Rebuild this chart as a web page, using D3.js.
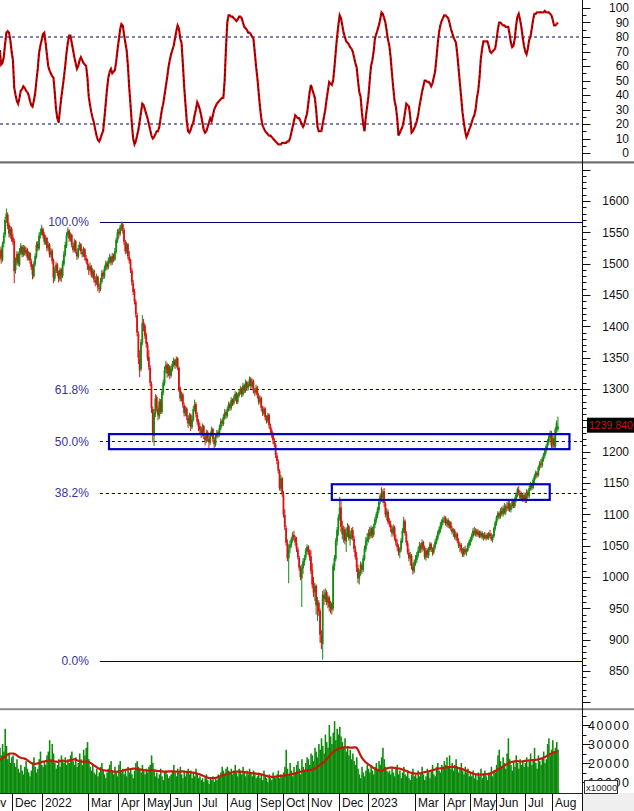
<!DOCTYPE html>
<html><head><meta charset="utf-8">
<script src="https://cdn.jsdelivr.net/npm/d3@7"></script>
<style>html,body{margin:0;padding:0;background:#fff;overflow:hidden}svg{display:block;font-family:Arial,"Liberation Sans",sans-serif}</style>
</head><body><svg id="c" width="634" height="811"></svg>
<script>
// ---------- DATA ----------
const monthLabels = ['Nov','Dec','2022','Feb','Mar','Apr','May','Jun','Jul','Aug','Sep','Oct','Nov','Dec','2023','Feb','Mar','Apr','May','Jun','Jul','Aug'];
const monthBars   = [23,23,19,16,23,20,20,22,21,23,20,19,24,22,16,20,22,20,20,22,21,5];
const hiddenMonthLabels = ['Feb'];
const leadBars = 13; // bars of the first month that are before the first drawn candle

// [open, high, low, close]
const candles = [
[1512,1528,1505,1520],[1522,1526,1500,1508],[1506,1535,1503,1530],[1532,1550,1526,1545],[1546,1575,1542,1570],[1572,1588,1565,1580],[1578,1582,1555,1560],[1562,1566,1542,1548],[1545,1560,1540,1555],[1556,1559,1535,1540],
[1542,1548,1530,1535],[1536,1540,1469,1488],[1490,1510,1484,1505],[1503,1520,1498,1515],[1516,1518,1496,1500],[1498,1525,1495,1520],[1518,1533,1514,1528],[1527,1530,1510,1515],[1514,1530,1511,1525],[1526,1529,1513,1518],[1516,1527,1512,1522],[1523,1525,1505,1510],[1508,1520,1505,1516],[1517,1519,1500,1505],[1504,1508,1490,1495],[1496,1499,1475,1482],[1480,1504,1477,1500],[1499,1516,1496,1512],[1511,1535,1508,1530],[1532,1536,1520,1525],[1524,1550,1521,1545],[1546,1556,1540,1550],[1548,1562,1545,1556],
[1555,1558,1540,1545],[1546,1550,1530,1535],[1533,1546,1530,1540],[1541,1543,1520,1525],[1524,1535,1520,1530],[1531,1533,1510,1515],[1514,1525,1510,1520],[1521,1524,1500,1505],[1506,1508,1469,1478],[1476,1495,1472,1490],[1489,1503,1485,1498],[1499,1501,1480,1485],[1486,1489,1470,1476],[1475,1494,1472,1490],[1491,1493,1471,1482],[1480,1505,1477,1500],[1499,1520,1496,1515],[1514,1535,1511,1530],[1528,1550,1525,1545],
[1546,1558,1542,1552],[1553,1555,1535,1540],[1538,1550,1535,1545],[1546,1548,1526,1530],[1529,1533,1518,1522],[1521,1540,1518,1535],[1536,1538,1516,1520],[1519,1523,1506,1512],[1511,1530,1508,1525],[1526,1535,1521,1530],[1531,1533,1515,1520],[1519,1524,1510,1515],[1514,1527,1511,1522],[1523,1525,1505,1510],[1509,1514,1500,1505],[1506,1508,1490,1498],
[1497,1500,1482,1490],[1489,1502,1486,1495],[1496,1498,1478,1482],[1481,1493,1477,1488],[1489,1491,1470,1475],[1474,1480,1464,1470],[1469,1484,1466,1478],[1479,1481,1456,1462],[1461,1468,1453,1460],[1459,1477,1456,1472],[1471,1490,1468,1485],[1486,1489,1475,1480],[1479,1497,1476,1492],[1491,1505,1488,1500],[1501,1504,1490,1495],[1494,1510,1491,1505],[1504,1516,1500,1510],[1511,1513,1497,1502],[1501,1517,1498,1512],[1513,1516,1503,1508],[1507,1525,1504,1520],[1519,1542,1516,1538],[1537,1555,1533,1550],
[1551,1556,1540,1548],[1547,1562,1544,1558],[1557,1567,1552,1562],[1563,1566,1548,1555],[1554,1557,1530,1535],[1534,1538,1515,1520],[1519,1535,1516,1530],[1531,1533,1507,1512],[1511,1520,1500,1505],[1506,1508,1485,1490],[1489,1493,1465,1470],[1469,1474,1450,1455],[1456,1460,1435,1440],[1439,1443,1414,1420],[1418,1422,1384,1390],[1388,1392,1340,1350],[1348,1362,1319,1330],[1332,1380,1328,1375],[1374,1418,1370,1405],[1406,1412,1392,1400],
[1401,1404,1380,1385],[1386,1390,1366,1372],[1371,1375,1345,1350],[1351,1362,1330,1335],[1334,1338,1305,1310],[1308,1312,1262,1270],[1268,1272,1215,1228],[1225,1268,1209,1262],[1260,1292,1255,1285],[1287,1290,1264,1270],[1269,1273,1250,1258],[1256,1285,1252,1280],[1281,1284,1260,1265],[1263,1300,1260,1295],[1294,1315,1290,1310],[1309,1336,1305,1330],[1331,1345,1325,1338],[1339,1342,1318,1325],[1324,1340,1320,1335],[1336,1338,1316,1322],
[1321,1337,1318,1332],[1331,1345,1328,1340],[1339,1350,1335,1345],[1346,1348,1332,1338],[1337,1352,1334,1348],[1349,1351,1330,1335],[1334,1336,1295,1300],[1301,1304,1280,1285],[1284,1296,1280,1290],[1291,1294,1270,1275],[1274,1278,1256,1262],[1261,1273,1257,1268],[1269,1271,1250,1255],[1254,1258,1238,1245],[1244,1262,1241,1258],[1259,1261,1233,1240],[1239,1257,1236,1252],[1251,1273,1248,1268],[1267,1283,1264,1275],[1276,1279,1255,1260],[1259,1263,1243,1248],[1249,1252,1233,1240],
[1241,1246,1229,1235],[1236,1240,1222,1228],[1227,1245,1224,1240],[1241,1243,1220,1225],[1224,1228,1210,1218],[1217,1235,1214,1230],[1231,1234,1216,1222],[1221,1225,1206,1215],[1214,1232,1211,1228],[1227,1240,1224,1235],[1236,1238,1215,1220],[1219,1223,1206,1212],[1211,1229,1208,1225],[1224,1235,1221,1230],[1231,1234,1222,1228],[1227,1243,1224,1238],[1237,1253,1234,1248],[1249,1252,1240,1245],[1244,1260,1241,1255],[1254,1268,1251,1262],[1263,1266,1252,1258],
[1257,1272,1254,1268],[1267,1280,1264,1275],[1276,1279,1265,1270],[1269,1287,1266,1282],[1283,1285,1273,1278],[1277,1290,1274,1285],[1284,1297,1281,1292],[1293,1295,1276,1280],[1279,1294,1276,1290],[1289,1300,1286,1295],[1294,1305,1291,1300],[1301,1303,1287,1292],[1291,1310,1288,1305],[1306,1308,1293,1298],[1297,1315,1294,1310],[1311,1313,1297,1302],[1301,1312,1298,1308],[1307,1320,1304,1315],[1316,1319,1300,1305],[1304,1317,1301,1312],[1313,1315,1293,1298],[1297,1301,1289,1295],[1294,1307,1291,1302],
[1303,1305,1285,1290],[1289,1293,1275,1280],[1279,1290,1276,1285],[1286,1288,1265,1270],[1269,1273,1257,1262],[1261,1272,1258,1268],[1269,1271,1250,1255],[1254,1258,1245,1250],[1249,1262,1246,1258],[1259,1261,1237,1242],[1241,1245,1230,1235],[1234,1238,1222,1228],[1227,1231,1212,1218],[1217,1222,1207,1212],[1211,1214,1190,1195],[1194,1198,1180,1185],[1184,1188,1165,1170],[1169,1172,1138,1142],[1141,1163,1137,1158],[1157,1160,1128,1132],
[1131,1137,1095,1100],[1099,1108,1075,1080],[1078,1082,1050,1055],[1054,1060,1025,1030],[1030,1052,990,1045],[1046,1058,1038,1052],[1051,1064,1047,1060],[1059,1072,1055,1068],[1067,1074,1058,1063],[1062,1066,1050,1055],[1054,1064,1040,1045],[1044,1048,1028,1032],[1031,1034,1010,1015],[1014,1018,995,1000],[998,1020,952,1015],[1014,1030,1005,1025],[1024,1035,1018,1030],[1031,1046,1027,1042],[1041,1052,1036,1048],
[1049,1051,1035,1040],[1041,1044,1026,1032],[1033,1043,1005,1010],[1011,1022,982,988],[989,1000,968,975],[976,991,962,985],[986,988,940,955],[954,968,930,960],[959,963,938,945],[946,950,895,908],[907,915,885,895],[893,978,868,972],[971,980,955,965],[964,982,960,975],[976,979,955,960],[959,972,950,968],[967,970,945,952],[951,962,942,958],[957,960,940,948],[950,1022,946,1018],[1017,1035,1010,1030],[1029,1062,1025,1058],[1057,1080,1050,1075],[1074,1100,1066,1095],
[1094,1128,1090,1110],[1111,1122,1072,1080],[1079,1090,1060,1068],[1067,1082,1055,1075],[1076,1080,1052,1058],[1057,1078,1040,1070],[1071,1086,1064,1080],[1081,1084,1058,1062],[1061,1074,1050,1068],[1069,1078,1060,1074],[1075,1080,1058,1062],[1061,1066,1040,1045],[1044,1050,1028,1032],[1031,1040,1008,1015],[1014,1020,990,998],[997,1012,988,1008],[1007,1025,1002,1020],[1019,1023,1005,1012],[1011,1035,1008,1030],[1029,1050,1026,1045],[1044,1064,1040,1058],[1057,1070,1050,1062],
[1061,1076,1055,1070],[1071,1080,1060,1066],[1065,1082,1062,1078],[1077,1080,1062,1068],[1067,1085,1064,1082],[1083,1096,1078,1092],[1091,1104,1086,1100],[1099,1112,1094,1108],[1107,1125,1102,1120],[1121,1134,1116,1130],[1131,1143,1120,1128],[1127,1140,1118,1136],[1137,1142,1112,1118],[1117,1120,1095,1100],[1099,1110,1090,1105],[1104,1108,1084,1088],
[1089,1094,1080,1085],[1084,1090,1072,1078],[1077,1082,1064,1070],[1069,1084,1066,1080],[1079,1082,1058,1062],[1061,1068,1050,1055],[1054,1060,1042,1048],[1047,1052,1034,1040],[1039,1048,1030,1045],[1044,1062,1040,1058],[1057,1078,1054,1074],[1073,1096,1070,1090],[1089,1092,1066,1070],[1069,1073,1050,1055],[1054,1058,1036,1040],[1039,1045,1025,1030],[1029,1040,1018,1035],[1034,1037,1012,1018],[1017,1022,1004,1010],[1009,1028,1006,1024],
[1023,1035,1018,1028],[1027,1040,1022,1035],[1034,1048,1030,1042],[1041,1056,1038,1050],[1051,1054,1038,1045],[1044,1060,1040,1055],[1056,1058,1042,1048],[1047,1050,1028,1032],[1031,1046,1026,1042],[1043,1046,1030,1035],[1034,1048,1030,1044],[1043,1056,1040,1052],[1053,1055,1040,1045],[1044,1047,1034,1040],[1039,1052,1036,1048],[1047,1060,1044,1056],[1055,1066,1052,1062],[1061,1074,1058,1070],[1069,1080,1066,1076],[1075,1088,1070,1082],[1081,1092,1077,1088],[1087,1096,1083,1092],
[1093,1098,1086,1094],[1095,1097,1082,1086],[1085,1093,1080,1090],[1091,1094,1078,1082],[1081,1090,1077,1086],[1087,1089,1074,1078],[1077,1081,1068,1072],[1071,1078,1064,1075],[1074,1077,1060,1064],[1063,1072,1058,1068],[1069,1071,1054,1058],[1057,1062,1046,1050],[1049,1056,1040,1052],[1051,1054,1038,1042],[1041,1046,1032,1036],[1035,1048,1032,1045],[1044,1050,1036,1040],[1039,1046,1034,1043],[1042,1054,1040,1051],[1050,1060,1046,1056],
[1055,1064,1050,1060],[1059,1070,1056,1066],[1065,1078,1062,1074],[1073,1080,1066,1070],[1069,1078,1065,1075],[1074,1077,1064,1068],[1067,1076,1064,1072],[1071,1074,1062,1066],[1065,1074,1062,1071],[1070,1073,1060,1064],[1063,1070,1058,1068],[1067,1072,1060,1062],[1061,1070,1058,1067],[1066,1070,1060,1063],[1062,1072,1059,1070],[1069,1075,1062,1065],[1064,1070,1057,1060],[1059,1068,1055,1066],[1065,1080,1062,1078],[1077,1090,1074,1087],
[1086,1098,1082,1095],[1094,1105,1090,1102],[1101,1104,1092,1097],[1096,1110,1093,1106],[1105,1112,1098,1101],[1100,1114,1096,1110],[1109,1118,1100,1104],[1103,1116,1099,1113],[1112,1120,1106,1110],[1109,1122,1105,1118],[1117,1121,1104,1108],[1107,1118,1103,1114],[1113,1125,1109,1121],[1120,1124,1110,1114],[1113,1128,1110,1124],[1123,1135,1119,1132],[1131,1143,1127,1140],[1139,1145,1130,1134],[1133,1138,1122,1126],[1125,1136,1121,1132],[1131,1134,1120,1124],[1123,1135,1120,1131],
[1130,1134,1118,1122],[1121,1140,1118,1136],[1135,1139,1126,1130],[1129,1146,1126,1142],[1141,1152,1138,1148],[1147,1150,1138,1143],[1142,1158,1140,1155],[1154,1164,1150,1161],[1160,1170,1156,1167],[1166,1169,1158,1163],[1162,1178,1160,1175],[1174,1185,1170,1182],[1181,1188,1174,1179],[1178,1192,1175,1189],[1188,1198,1184,1195],[1194,1205,1190,1202],[1201,1212,1197,1209],[1208,1220,1204,1216],[1215,1228,1211,1224],[1223,1234,1218,1230],[1229,1233,1205,1210],
[1212,1228,1206,1222],[1221,1226,1204,1208],[1209,1240,1205,1236],[1235,1250,1230,1246],[1236,1256,1232,1239.84]
];

const stochK = [
71,61,62,66,75,83,84,83,78,70, 64,45,40,36,34,38,43,44,46,45, 43,42,40,36,33,32,36,41,50,58, 69,74,78,82,83,76,68,60,57,55,
53,52,42,30,24,21,30,38,45,52, 60,69,76,81,81,76,71,66,62,58, 60,64,66,64,62,61,60,52,39,33, 28,24,21,16,12,9,8,10,13,15,
24,34,44,52,56,58,55,56,57,63, 71,78,85,89,88,82,76,71,60,45, 33,20,10,6,8,12,16,22,28,34, 33,30,27,24,20,16,12,10,11,13,
15,15,18,24,30,34,40,46,52,59, 64,68,71,74,79,84,88,86,79,76, 62,46,34,22,15,14,16,19,21,26, 30,35,33,30,26,21,16,14,15,18,
21,24,22,26,30,32,34,35,36,37, 38,38,50,72,90,95,95,94,94,93, 92,91,92,94,94,93,90,87,86,85, 83,83,82,80,79,70,60,52,42,32,
24,19,17,15,14,13,12,12,11,10, 9,8,7,6,6,6,7,7,7,7, 8,8,10,14,18,22,26,25,24,24, 22,20,18,20,24,27,34,42,47,44,
41,38,30,18,15,15,15,20,25,30, 37,43,49,48,47,50,59,70,80,88, 95,93,88,83,80,77,76,75,73,72, 70,66,62,59,50,42,39,28,20,15,
25,32,39,50,60,64,70,79,82,85, 88,92,97,96,93,90,84,78,74,66, 55,45,36,32,24,12,14,16,18,22, 28,34,33,32,25,14,15,17,19,22,
26,32,37,42,46,50,50,49,49,48, 46,48,52,56,65,75,83,88,91,93, 95,95,94,93,90,86,83,80,78,76, 68,58,48,38,28,21,15,11,13,16,
18,21,24,26,30,38,43,52,65,72, 77,77,77,77,74,70,69,70,71,72, 78,85,90,90,89,88,88,87,87,87, 82,76,73,74,79,88,94,96,92,87,
80,74,70,68,72,78,80,86,92,96, 96,97,97,97,97,97,97,98,97,97, 97,96,95,92,88,88,89,90
];
const stochLevels = [80, 20];

// volume, in thousands of the x10000 unit
const volumes = [
28,24,30,26,38,29,22,25,20,23,
24,20,18,22,17,15,19,16,14,18,21,17,15,13,16,20,23,18,15,17,22,26,19,
18,21,19,24,26,32,22,30,25,20,17,19,22,18,24,21,20,23,19,
22,20,24,26,21,19,23,18,20,25,22,19,27,24,28,31,
22,18,16,19,15,14,17,13,15,18,20,16,14,12,15,17,19,21,16,14,18,15,13,
19,21,15,17,14,16,13,18,15,17,14,12,16,20,21,18,17,15,19,16,
14,17,15,18,19,24,20,16,13,15,12,14,17,13,11,15,16,14,12,13,
14,16,19,15,13,17,15,18,14,12,16,13,15,17,14,16,12,15,13,17,14,12,
13,11,12,10,12,14,11,9,12,11,13,10,12,11,14,13,15,18,16,14,17,
18,16,15,17,14,16,19,15,13,17,16,14,18,15,13,16,14,17,15,13,16,14,12,
13,15,12,14,11,16,13,12,10,14,12,11,15,13,12,14,16,12,14,13,
15,18,27,17,14,20,16,13,18,15,19,21,17,14,22,18,16,20,23,
22,19,25,24,21,28,26,23,30,27,33,29,25,35,31,28,40,34,30,36,42,32,38,35,
39,34,31,28,33,26,29,24,27,22,25,21,19,23,17,14,12,18,15,13,16,19,
17,15,19,16,14,18,20,17,21,19,23,28,22,18,16,15,
16,14,18,15,13,17,19,14,16,12,15,18,14,13,16,12,11,14,17,13,
14,12,16,13,15,18,14,11,13,17,15,12,16,19,14,13,18,20,16,15,19,17,
21,19,23,18,24,17,20,16,19,22,18,15,17,20,16,14,18,15,17,13,
15,13,16,12,14,11,15,13,17,12,14,16,13,11,15,14,18,13,16,15,
19,24,27,21,18,23,20,17,25,33,22,19,16,21,18,24,20,17,22,19,21,18,
20,23,18,21,25,19,22,28,20,17,24,21,19,23,26,20,22,30,33,24,27,
32,26,28,31,27
];
const volumeMA = [
21.5,22,22.5,23,23.5,24,24.5,24.8,25,25,
25,24.8,24.5,24,23.5,23,22.8,22.5,22.5,22.3,22,21.5,21,20.5,20,19.8,19.5,19.5,19.6,19.8,20,20.2,20.5,
20.7,20.8,21,21,21.2,21.3,21.2,21,21,20.8,20.7,20.6,20.8,21,21.2,21.3,21.2,21,20.9,
21,21.2,21.5,21.7,21.8,22,21.8,21.5,21.2,21,20.8,20.7,20.6,20.7,20.8,20.7,
20.5,20.2,19.8,19.3,18.8,18.3,17.8,17.4,17,16.8,16.5,16.3,16.2,16,16,15.9,15.8,15.7,15.6,15.5,15.5,15.4,15.5,
15.5,15.6,15.8,16,16.2,16.4,16.5,16.6,16.7,16.8,16.9,17,17,16.9,16.8,16.7,16.6,16.5,16.4,16.3,
16.2,16.1,16,16,16,16.1,16.2,16.1,16,15.9,15.8,15.7,15.6,15.6,15.5,15.5,15.5,15.5,15.6,15.6,
15.6,15.6,15.5,15.5,15.5,15.4,15.4,15.5,15.6,15.6,15.5,15.4,15.3,15.2,15.2,15.1,15,14.9,14.8,14.6,14.4,14.2,
14,13.7,13.4,13.1,12.8,12.5,12.3,12.1,12,12,12,12.1,12.2,12.4,12.6,12.9,13.2,13.5,13.7,13.9,14.1,
14.3,14.5,14.7,14.9,15.1,15.3,15.4,15.5,15.5,15.5,15.5,15.4,15.3,15.2,15.1,15,14.9,14.8,14.7,14.7,14.6,14.5,14.4,
14.3,14.2,14.1,14,13.8,13.6,13.4,13.2,13,12.9,12.8,12.7,12.7,12.7,12.8,12.9,13,13.1,13.2,13.3,
13.4,13.5,13.6,13.7,13.8,13.9,14,14.2,14.4,14.6,14.8,15,15.2,15.4,15.6,15.8,16,16,16.1,
16.2,16.3,16.4,16.5,16.7,17,17.5,18,18.5,19,19.5,20,20.5,21.2,22,22.8,23.6,24.3,25,25.7,26.3,26.8,27.2,27.5,
27.8,28,28.1,28.2,28.2,28.2,28.2,28.2,28.1,28.1,28.1,28.2,28.2,28,27,25.5,24,22.8,21.8,21,20.3,19.8,
19.3,18.8,18.3,17.8,17.3,16.9,16.6,16.3,16.1,16,16,16.2,16.5,16.8,17.1,17.3,
17.5,17.6,17.6,17.5,17.4,17.3,17.2,17.1,17,16.8,16.6,16.4,16.1,15.8,15.5,15.2,15,14.8,14.6,14.5,
14.4,14.4,14.4,14.5,14.6,14.8,15,15.2,15.4,15.5,15.6,15.8,16,16.2,16.4,16.6,16.8,17,17.1,17.2,17.3,17.4,
17.5,17.6,17.7,17.8,17.9,18,18,18,17.9,17.8,17.6,17.4,17.2,17,16.8,16.5,16.2,15.9,15.6,15.3,
15,14.7,14.4,14.2,14,14,13.9,13.9,13.9,13.9,14,14,14,14.1,14.2,14.4,14.7,15,15.4,15.8,
16.2,16.6,17,17.4,17.8,18.2,18.6,19,19.4,19.8,20.1,20.4,20.6,20.8,20.9,21,21,20.9,20.8,20.8,20.9,21,
21.1,21.2,21.3,21.4,21.4,21.5,21.5,21.5,21.6,21.7,21.9,22.1,22.3,22.5,22.8,23.1,23.5,23.9,24.3,24.7,25,
25.3,25.6,25.8,26,26.2
];

const fibHigh = 1567, fibLow = 866, fibStartBar = 77;
const fibRatios = [1, 0.618, 0.5, 0.382, 0];
const zoneFrom = [84, 254.5], zoneTo = [436.3, 421.2], zoneLow = [1204, 1123], zoneHigh = [1228, 1148];
const priceLabelTicks = [850,900,950,1000,1050,1100,1150,1200,1250,1300,1350,1400,1450,1500,1550,1600];
const stochLabelTicks = [0,10,20,30,40,50,60,70,80,90,100];
const volumeLabelTicks = [10,20,30,40];

// ---------- LAYOUT ----------
const W = 634, H = 811, AX = 582.5, LX = 629;
const svg = d3.select('#c');
const N = candles.length;
const x = d3.scaleLinear().domain([0, N]).range([-0.8, -0.8 + N * 1.307]);
const yS = d3.scaleLinear().domain([0, 100]).range([153, 8]);
const yP = d3.scaleLinear().domain([850, 1600]).range([671, 201]);
const yV = d3.scaleLinear().domain([0, 40]).range([801, 725]);
const lastClose = candles[N - 1][3];
const ly = yP(lastClose);

svg.append('rect').attr('width', W).attr('height', H).attr('fill', '#fff');
const defs = svg.append('defs');
[['cs',0,0,582,161],['cp',0,164,582,544],['cv',0,711,582,82]].forEach(([id,a,b,w,h]) =>
  defs.append('clipPath').attr('id', id).append('rect').attr('x',a).attr('y',b).attr('width',w).attr('height',h));

// ---------- STOCHASTIC PANEL ----------
const gs = svg.append('g').attr('clip-path', 'url(#cs)');
stochLevels.forEach(v => gs.append('line').attr('x1',0).attr('x2',AX).attr('y1',yS(v)).attr('y2',yS(v))
  .attr('stroke','#000066').attr('stroke-width',1).attr('stroke-dasharray','3,3'));
const sLine = d3.line().x((d,i) => x(i + 0.5)).y(d => yS(d)).curve(d3.curveLinear);
gs.append('path').datum(stochK).attr('d', sLine).attr('fill','none').attr('stroke','#d00000').attr('stroke-width',2.2);
gs.append('path').datum(stochK).attr('d', sLine).attr('fill','none').attr('stroke','#200000').attr('stroke-width',0.8).attr('stroke-dasharray','2,3');

// ---------- PRICE PANEL ----------
const gp = svg.append('g').attr('clip-path', 'url(#cp)');
const fibX0 = x(fibStartBar);
fibRatios.forEach(r => {
  const lv = fibLow + r * (fibHigh - fibLow);
  const solid = (r === 1 || r === 0);
  gp.append('line').attr('x1', fibX0).attr('x2', AX).attr('y1', Math.round(yP(lv)) + 0.5).attr('y2', Math.round(yP(lv)) + 0.5)
    .attr('stroke', '#000066').attr('stroke-width', 1).attr('stroke-dasharray', solid ? null : '3,3');
  svg.append('text').attr('x', fibX0 - 11).attr('y', yP(lv)).attr('dy', '0.36em').attr('text-anchor', 'end')
    .attr('font-size', 12).attr('fill', '#3535a5').text((r * 100).toFixed(1) + '%');
});
const cg = gp.append('g');
candles.forEach((d, i) => {
  const [o, h, l, c] = d;
  const col = c >= o ? '#128c12' : '#dd1111';
  const cx = x(i + 0.5);
  cg.append('line').attr('x1', cx).attr('x2', cx).attr('y1', yP(h)).attr('y2', yP(l)).attr('stroke', col).attr('stroke-width', 1);
  const top = yP(Math.max(o, c)), bot = yP(Math.min(o, c));
  cg.append('rect').attr('x', cx - 0.9).attr('width', 1.8).attr('y', top).attr('height', Math.max(1, bot - top)).attr('fill', col);
});
zoneFrom.forEach((f, k) => {
  gp.append('rect').attr('x', x(f)).attr('width', x(zoneTo[k]) - x(f))
    .attr('y', yP(zoneHigh[k])).attr('height', yP(zoneLow[k]) - yP(zoneHigh[k]))
    .attr('fill', 'none').attr('stroke', '#0000c0').attr('stroke-width', 2.2);
});

// ---------- VOLUME PANEL ----------
const gv = svg.append('g').attr('clip-path', 'url(#cv)');
gv.selectAll('rect.v').data(volumes).enter().append('rect')
  .attr('x', (d, i) => x(i)).attr('width', x(1) - x(0) + 0.25)
  .attr('y', d => yV(d)).attr('height', d => 801 - yV(d)).attr('fill', '#0b8a0b');
gv.append('path').datum(volumeMA).attr('d', d3.line().x((d, i) => x(i + 0.5)).y(d => yV(d)))
  .attr('fill', 'none').attr('stroke', '#c41a0a').attr('stroke-width', 2.2);

// ---------- SEPARATORS & AXES ----------
svg.append('rect').attr('x', 0).attr('y', 161.3).attr('width', W).attr('height', 2.2).attr('fill', '#707070');
svg.append('rect').attr('x', 0).attr('y', 708.2).attr('width', W).attr('height', 2).attr('fill', '#8c8c8c');
svg.append('rect').attr('x', AX).attr('y', 793).attr('width', W - AX).attr('height', H - 793).attr('fill', '#efefef');
svg.append('line').attr('x1', 0).attr('x2', AX).attr('y1', 793.5).attr('y2', 793.5).attr('stroke', '#222');
svg.append('line').attr('x1', AX).attr('x2', AX).attr('y1', 0).attr('y2', H).attr('stroke', '#111');

function ticks(scale, from, to, step, majorEvery, yMin, yMax) {
  for (let v = from; v <= to + 1e-9; v += step) {
    const y = Math.round(scale(v)) + 0.5;
    if (y < yMin || y > yMax) continue;
    const major = Math.abs(v / majorEvery - Math.round(v / majorEvery)) < 1e-6;
    svg.append('line').attr('x1', AX).attr('x2', AX + (major ? 8 : 4)).attr('y1', y).attr('y2', y).attr('stroke', '#111');
  }
}
ticks(yS, 0, 100, 5, 10, 1, 160);
ticks(yP, 800, 1660, 10, 50, 166, 706);
ticks(yV, 5, 45, 5, 10, 712, 792);

stochLabelTicks.forEach(v => svg.append('text').attr('x', LX).attr('y', yS(v)).attr('dy', '0.36em')
  .attr('text-anchor', 'end').attr('font-size', 12).attr('fill', '#111').text(v));
// price labels hidden behind the last-price tag are not drawn (as in the reference)
priceLabelTicks.filter(v => Math.abs(yP(v) - ly) > 13).forEach(v => svg.append('text').attr('x', LX).attr('y', yP(v)).attr('dy', '0.36em')
  .attr('text-anchor', 'end').attr('font-size', 12).attr('fill', '#111').text(v));
volumeLabelTicks.forEach(v => svg.append('text').attr('x', LX).attr('y', yV(v)).attr('dy', '0.36em')
  .attr('text-anchor', 'end').attr('font-size', 12.5).attr('fill', '#111')
  .attr('textLength', 41).attr('lengthAdjust', 'spacing').text(d3.format('d')(v * 1000)));

// x10000 unit box
svg.append('rect').attr('x', 584.5).attr('y', 780.5).attr('width', 33).attr('height', 13).attr('fill', '#fff').attr('stroke', '#333');
svg.append('text').attr('x', 586).attr('y', 790.5).attr('font-size', 9.5).attr('fill', '#222').text('x10000');

// last price tag
svg.append('rect').attr('x', 587).attr('y', ly - 9).attr('width', 47).attr('height', 15).attr('fill', '#000');
svg.append('text').attr('x', 589).attr('y', ly - 1.5).attr('dy', '0.36em').attr('font-size', 11).attr('fill', '#cc1111')
  .attr('textLength', 44).attr('lengthAdjust', 'spacingAndGlyphs').text(lastClose.toFixed(3));

// month ticks
let start = -leadBars;
monthBars.forEach((n, k) => {
  const s = start; start += n;
  if (hiddenMonthLabels.includes(monthLabels[k])) return;
  const sx = Math.round(x(s)) + 0.5;
  svg.append('line').attr('x1', sx).attr('x2', sx).attr('y1', 794).attr('y2', H).attr('stroke', '#111');
  svg.append('text').attr('x', sx + 2.5).attr('y', 807).attr('font-size', 12).attr('fill', '#111').text(monthLabels[k]);
});
</script></body></html>
